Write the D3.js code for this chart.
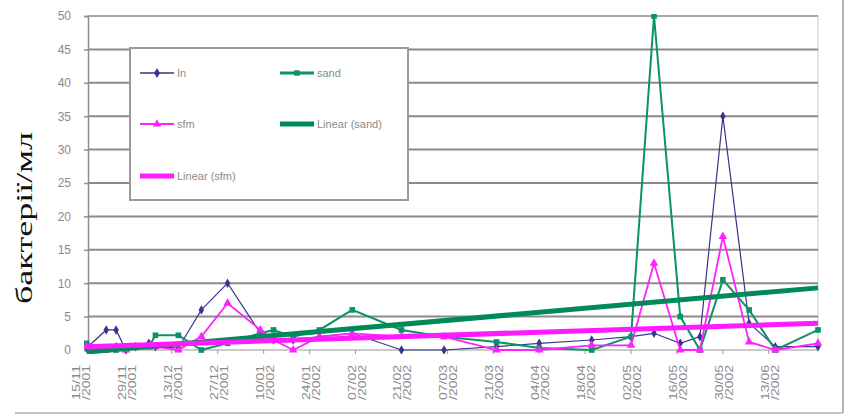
<!DOCTYPE html>
<html lang="uk">
<head>
    <meta charset="UTF-8">
    <script src="https://cdn.jsdelivr.net/npm/d3@7"></script>
    <style>
        body { margin: 0; background: white; }
        text { font-family: Arial, 'Liberation Sans', sans-serif; }
    </style>
</head>
<body>
<div id="chart"></div>
<script>
    // sampling dates (dd/mm/yyyy)
    const dates = [
        "17/11/2001", "23/11/2001", "26/11/2001", "29/11/2001", "02/12/2001", "06/12/2001", "08/12/2001",
        "15/12/2001", "22/12/2001", "30/12/2001", "09/01/2002", "13/01/2002", "19/01/2002", "27/01/2002",
        "06/02/2002", "21/02/2002", "06/03/2002", "22/03/2002", "04/04/2002", "20/04/2002", "02/05/2002",
        "09/05/2002", "17/05/2002", "23/05/2002", "30/05/2002", "07/06/2002", "15/06/2002", "28/06/2002"
    ];
    const inValues   = [0.3, 3, 3, 0, 0.5, 1, 0.5, 0.3, 6, 10, 2.5, 1.5, 1.5, 2, 2.5, 0, 0, 0.5, 1, 1.5, 2, 2.5, 1, 2, 35, 4, 0.5, 0.5];
    const sfmValues  = [0.5, 0, 0.5, 0, 0.5, 0.5, 0.5, 0, 2, 7, 3, 1.5, 0, 2, 2.5, 2, 2, 0, 0, 0.7, 0.7, 13, 0, 0, 17, 1.2, 0, 1];
    const sandValues = [1, 0, 0, 0.5, 0.5, 0.5, 2.2, 2.2, 0, 1, 2.5, 3, 2, 3, 6, 3, 2, 1.2, 0.3, 0, 2, 50, 5, 0, 10.5, 6, 0, 3];

    // linear trend lines, values at the first and last date
    const trendDates = ["17/11/2001", "28/06/2002"];
    const trendSand = [-0.3, 9.3];
    const trendSfm = [0.5, 4];

    // x tick labels every two weeks
    const tickDates = ["15/11/2001", "29/11/2001", "13/12/2001", "27/12/2001", "10/01/2002", "24/01/2002",
        "07/02/2002", "21/02/2002", "07/03/2002", "21/03/2002", "04/04/2002", "18/04/2002",
        "02/05/2002", "16/05/2002", "30/05/2002", "13/06/2002"];
    const yTicks = [0, 5, 10, 15, 20, 25, 30, 35, 40, 45, 50];

    const parse = d3.timeParse("%d/%m/%Y");

    const width = 851, height = 416;
    const plot = { left: 88, right: 818, top: 16, bottom: 350 };

    const svg = d3.select("#chart").append("svg")
        .attr("width", width)
        .attr("height", height);

    const x = d3.scaleTime()
        .domain([parse("15/11/2001"), parse("28/06/2002")])
        .range([80, plot.right]);
    const y = d3.scaleLinear()
        .domain([0, 50])
        .range([plot.bottom, plot.top]);

    // outer chart border (right and bottom visible)
    svg.append("line").attr("x1", 843).attr("x2", 843).attr("y1", 0).attr("y2", 413)
        .attr("stroke", "#9a9a9a").attr("stroke-width", 1.5);
    svg.append("line").attr("x1", 15).attr("x2", 843).attr("y1", 413).attr("y2", 413)
        .attr("stroke", "#b0b0b0").attr("stroke-width", 1.5);

    // plot area right edge
    svg.append("line").attr("x1", plot.right).attr("x2", plot.right)
        .attr("y1", plot.top).attr("y2", plot.bottom)
        .attr("stroke", "#c8c8c8").attr("stroke-width", 1);

    // gridlines
    svg.append("g")
        .selectAll("line")
        .data(yTicks.filter(d => d > 0))
        .join("line")
        .attr("x1", plot.left).attr("x2", plot.right)
        .attr("y1", d => y(d)).attr("y2", d => y(d))
        .attr("stroke", d => d === 50 ? "#a8a8a8" : "#8a8a8a")
        .attr("stroke-width", 2);

    // y axis
    const yAxis = svg.append("g")
        .attr("transform", `translate(${plot.left},0)`)
        .call(d3.axisLeft(y).tickValues(yTicks).tickSize(4).tickPadding(13));
    yAxis.select(".domain").attr("stroke", "#8e8e8e").attr("stroke-width", 1.5);
    yAxis.selectAll(".tick line").attr("stroke", "#8e8e8e").attr("stroke-width", 1.5);
    yAxis.selectAll(".tick text")
        .attr("fill", "#8a8a8a")
        .style("font-size", "12px");

    // x axis baseline and ticks
    svg.append("line").attr("x1", plot.left).attr("x2", plot.right)
        .attr("y1", plot.bottom).attr("y2", plot.bottom)
        .attr("stroke", "#b8b8b8").attr("stroke-width", 1.5);
    svg.append("g")
        .selectAll("line")
        .data(tickDates.map(parse).filter(d => x(d) >= plot.left))
        .join("line")
        .attr("x1", d => x(d)).attr("x2", d => x(d))
        .attr("y1", plot.bottom).attr("y2", plot.bottom + 4)
        .attr("stroke", "#9a9a9a");

    const xLabels = svg.append("g")
        .selectAll("text")
        .data(tickDates)
        .join("text")
        .attr("transform", d => `translate(${x(parse(d))},365) rotate(-90)`)
        .attr("text-anchor", "end")
        .attr("fill", "#8a8a8a")
        .style("font-size", "11px");
    xLabels.append("tspan")
        .attr("x", 0).attr("dy", 0)
        .attr("textLength", 35).attr("lengthAdjust", "spacingAndGlyphs")
        .text(d => d.slice(0, 5));
    xLabels.append("tspan")
        .attr("x", 0).attr("dy", 10)
        .attr("textLength", 35).attr("lengthAdjust", "spacingAndGlyphs")
        .text(d => "/" + d.slice(6));

    // y axis title
    svg.append("text")
        .attr("transform", "translate(32,218) rotate(-90)")
        .attr("text-anchor", "middle")
        .attr("textLength", 172)
        .attr("lengthAdjust", "spacingAndGlyphs")
        .style("font-family", "'Liberation Serif', 'DejaVu Serif', serif")
        .style("font-size", "23px")
        .attr("fill", "#111")
        .text("бактерії/мл");

    // series
    const series = [
        { name: "In", values: inValues, color: "#36368c", width: 1.2, marker: "diamond" },
        { name: "sand", values: sandValues, color: "#0a9268", width: 2, marker: "square" },
        { name: "sfm", values: sfmValues, color: "#ff22ff", width: 1.8, marker: "triangle" }
    ];
    const symbolFor = {
        diamond: d3.symbolDiamond,
        square: d3.symbolSquare,
        triangle: d3.symbolTriangle
    };

    const line = d3.line()
        .x(d => x(d.date))
        .y(d => y(d.value));

    const trends = [
        { name: "Linear (sand)", values: trendSand, color: "#008a58" },
        { name: "Linear (sfm)", values: trendSfm, color: "#ff1aff" }
    ];

    svg.append("clipPath").attr("id", "plotclip")
        .append("rect")
        .attr("x", plot.left - 4).attr("y", plot.top - 2)
        .attr("width", plot.right - plot.left + 8)
        .attr("height", plot.bottom - plot.top + 6);

    const plotG = svg.append("g").attr("clip-path", "url(#plotclip)");

    series.forEach(s => {
        const pts = dates.map((d, i) => ({ date: parse(d), value: s.values[i] }));
        plotG.append("path")
            .datum(pts)
            .attr("d", line)
            .attr("fill", "none")
            .attr("stroke", s.color)
            .attr("stroke-width", s.width);
        plotG.selectAll(null)
            .data(pts)
            .join("path")
            .attr("transform", d => `translate(${x(d.date)},${y(d.value)})`)
            .attr("d", d3.symbol().type(symbolFor[s.marker]).size(s.marker === "diamond" ? 26 : 32))
            .attr("fill", s.color);
    });

    trends.forEach(t => {
        const pts = trendDates.map((d, i) => ({ date: parse(d), value: t.values[i] }));
        plotG.append("path")
            .datum(pts)
            .attr("d", line)
            .attr("fill", "none")
            .attr("stroke", t.color)
            .attr("stroke-width", 5);
    });

    // legend
    const legend = svg.append("g");
    legend.append("rect")
        .attr("x", 130).attr("y", 48)
        .attr("width", 278).attr("height", 152)
        .attr("fill", "white")
        .attr("stroke", "#9a9a9a")
        .attr("stroke-width", 2);

    const legendItems = [
        { label: "In", color: "#36368c", width: 1.5, marker: "diamond", x: 140, y: 73 },
        { label: "sand", color: "#0a9268", width: 3, marker: "square", x: 280, y: 73 },
        { label: "sfm", color: "#ff22ff", width: 2, marker: "triangle", x: 140, y: 124 },
        { label: "Linear (sand)", color: "#008a58", width: 5, marker: null, x: 280, y: 124 },
        { label: "Linear (sfm)", color: "#ff1aff", width: 5, marker: null, x: 140, y: 176 }
    ];

    legendItems.forEach(item => {
        legend.append("line")
            .attr("x1", item.x).attr("x2", item.x + 34)
            .attr("y1", item.y).attr("y2", item.y)
            .attr("stroke", item.color)
            .attr("stroke-width", item.width);
        if (item.marker) {
            legend.append("path")
                .attr("transform", `translate(${item.x + 17},${item.y})`)
                .attr("d", d3.symbol().type(symbolFor[item.marker]).size(30))
                .attr("fill", item.color);
        }
        legend.append("text")
            .attr("x", item.x + 37)
            .attr("y", item.y + 4)
            .attr("fill", "#8a8a8a")
            .style("font-size", "11px")
            .text(item.label);
    });
</script>
</body>
</html>
